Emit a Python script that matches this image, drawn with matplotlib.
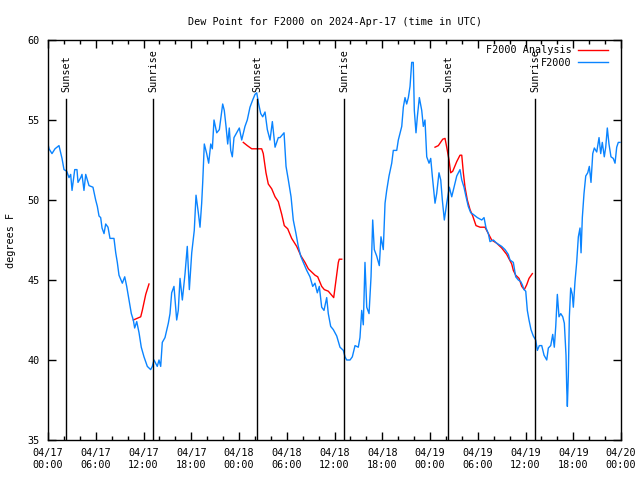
from datetime import datetime, timedelta
import matplotlib
matplotlib.use("Agg")
import matplotlib.pyplot as plt
import matplotlib.dates as mdates
import matplotlib.transforms as mtransforms

START = datetime(2024, 4, 17)

# observed dew point (hours after 04/17 00:00 UTC, degrees F)
obs_hours = [
    0.0, 0.13, 0.5, 0.88, 1.38, 1.76, 2.01, 2.35, 2.64, 2.85, 3.02, 3.36, 3.64, 3.77,
    4.11, 4.27, 4.52, 4.74, 5.15, 5.65, 5.99, 6.2, 6.41, 6.62, 6.79, 7.04, 7.25, 7.54,
    7.79, 8.29, 8.51, 8.71, 8.92, 9.34, 9.64, 9.89, 10.18, 10.47, 10.72, 10.89, 11.15,
    11.44, 11.72, 12.06, 12.48, 12.9, 13.11, 13.32, 13.73, 13.95, 14.16, 14.36, 14.7,
    15.12, 15.33, 15.54, 15.83, 16.17, 16.37, 16.59, 16.88, 17.22, 17.5, 17.76, 18.06,
    18.38, 18.6, 18.89, 19.1, 19.31, 19.44, 19.64, 19.94, 20.19, 20.45, 20.65, 20.86,
    21.2, 21.53, 21.74, 21.95, 22.15, 22.37, 22.58, 22.78, 22.96, 23.16, 23.37, 23.71,
    24.04, 24.34, 24.75, 25.04, 25.38, 25.72, 26.01, 26.23, 26.43, 26.73, 26.98, 27.27,
    27.56, 27.9, 28.19, 28.53, 28.94, 29.15, 29.66, 29.91, 30.2, 30.54, 30.82, 31.16,
    31.45, 31.75, 32.08, 32.51, 32.92, 33.26, 33.55, 33.84, 34.09, 34.39, 34.68, 35.02,
    35.22, 35.52, 35.85, 36.28, 36.69, 37.11, 37.32, 37.53, 37.95, 38.24, 38.58, 38.99,
    39.2, 39.42, 39.62, 39.83, 40.05, 40.34, 40.59, 40.8, 41.0, 41.3, 41.63, 41.84,
    42.13, 42.35, 42.56, 42.85, 43.19, 43.39, 43.82, 44.02, 44.45, 44.65, 44.86, 45.07,
    45.28, 45.49, 45.7, 45.9, 46.03, 46.24, 46.41, 46.66, 46.96, 47.16, 47.37, 47.59,
    47.88, 48.09, 48.29, 48.63, 48.84, 49.13, 49.35, 49.55, 49.8, 50.1, 50.43, 50.73,
    51.02, 51.36, 51.77, 51.99, 52.27, 52.53, 52.81, 53.12, 53.44, 53.95, 54.5, 54.79,
    55.04, 55.33, 55.54, 55.96, 56.38, 57.01, 57.43, 57.84, 58.05, 58.47, 58.77, 59.1,
    59.4, 59.6, 59.81, 60.03, 60.23, 60.44, 60.69, 60.98, 61.28, 61.49, 61.74, 62.04,
    62.33, 62.67, 62.87, 63.17, 63.42, 63.62, 63.8, 64.0, 64.21, 64.43, 64.68, 64.88,
    65.09, 65.18, 65.26, 65.38, 65.51, 65.68, 65.88, 66.01, 66.22, 66.43, 66.64, 66.85,
    66.98, 67.14, 67.35, 67.57, 67.82, 68.02, 68.23, 68.45, 68.65, 68.95, 69.24, 69.45,
    69.65, 69.9, 70.08, 70.28, 70.49, 70.74, 71.03, 71.25, 71.46, 71.66, 71.87,
]
obs_dewpt = [
    53.5, 53.2, 52.9, 53.2, 53.4, 52.6, 51.9, 51.8, 51.4, 51.6, 50.6, 51.9, 51.9, 51.1,
    51.4, 51.6, 50.6, 51.6, 50.9, 50.8, 50.0, 49.6, 49.0, 48.9, 48.25, 47.9, 48.5, 48.3,
    47.6, 47.6, 46.7, 46.1, 45.3, 44.8, 45.2, 44.6, 43.75, 42.9, 42.5, 42.0, 42.4,
    41.7, 40.8, 40.2, 39.6, 39.4, 39.6, 40.0, 39.6, 40.0, 39.6, 41.1, 41.4,
    42.3, 42.9, 44.2, 44.6, 42.5, 43.1, 45.1, 43.75, 45.4, 47.1, 44.4, 46.7,
    48.1, 50.3, 49.2, 48.3, 49.8, 51.1, 53.5, 52.9, 52.3, 53.5, 53.2, 55.0,
    54.2, 54.4, 55.2, 56.0, 55.6, 54.6, 53.5, 54.5, 53.1, 52.7, 53.9, 54.2,
    54.5, 53.75, 54.6, 55.0, 55.8, 56.25, 56.6, 56.7, 56.1, 55.4, 55.2, 55.5,
    54.4, 53.75, 54.9, 53.3, 53.9, 53.9, 54.2, 52.1, 51.25, 50.2, 48.75, 47.9,
    47.1, 46.5, 46.1, 45.6, 45.2, 44.6, 44.8, 44.2, 44.6, 43.3, 43.1, 43.9,
    42.9, 42.1, 41.9, 41.5, 40.8, 40.6, 40.2, 40.0, 40.0, 40.2, 40.9, 40.8,
    41.4, 43.1, 42.2, 46.1, 43.3, 42.9, 45.2, 48.75, 46.9, 46.5, 45.9, 47.7,
    46.9, 49.8, 50.6, 51.5, 52.3, 53.1, 53.1, 53.75, 54.6, 55.8, 56.4, 56.0,
    56.4, 57.1, 58.6, 58.6, 55.6, 54.2, 55.2, 56.4, 55.6, 54.6, 55.0, 52.7,
    52.3, 52.6, 51.5, 49.8, 50.4, 51.7, 51.25, 50.0, 48.75, 49.8, 50.8, 50.2,
    50.8, 51.5, 51.9, 51.25, 50.8, 50.2, 49.6, 49.2, 49.1, 48.9, 48.75, 48.9,
    48.25, 47.9, 47.4, 47.5, 47.3, 47.1, 46.9, 46.6, 46.25, 46.1, 45.2, 45.0,
    44.9, 44.7, 44.4, 44.3, 43.1, 42.5, 41.9, 41.5, 41.25, 40.6, 40.9, 40.9,
    40.3, 40.0, 40.75, 40.9, 41.6, 40.8, 42.1, 44.1, 42.7, 42.9, 42.7, 42.3,
    40.3, 38.25, 37.1, 39.0, 42.7, 44.5, 44.1, 43.3, 44.9, 46.1, 47.7, 48.25,
    46.7, 48.9, 50.4, 51.5, 51.7, 52.1, 51.1, 52.9, 53.25, 53.0, 53.9, 52.9,
    53.6, 52.7, 53.3, 54.5, 53.5, 52.7, 52.6, 52.3, 53.3, 53.6, 53.6,
]

# analysis segments
ana1_hours = [10.72, 11.65, 11.85, 12.28, 12.69]
ana1_dewpt = [42.5, 42.7, 43.1, 44.1, 44.75]
ana2_hours = [24.54, 25.04, 25.6, 26.85, 27.05, 27.39, 27.68, 28.11, 28.53, 28.94,
              29.37, 29.69, 30.12, 30.62, 31.25, 31.79, 32.29, 32.71, 33.55, 33.89,
              34.39, 34.72, 35.22, 35.73, 35.9, 36.19, 36.48, 36.6, 36.91]
ana2_dewpt = [53.6, 53.4, 53.2, 53.2, 52.9, 51.7, 51.0, 50.7, 50.2, 49.9,
              49.1, 48.4, 48.2, 47.6, 47.1, 46.5, 46.1, 45.7, 45.3, 45.2,
              44.6, 44.4, 44.3, 44.0, 43.9, 45.0, 46.1, 46.3, 46.3]
ana3_hours = [48.63, 49.05, 49.6, 49.89, 50.1, 50.39, 50.6, 50.86, 51.36, 51.77,
              51.99, 52.19, 52.4, 52.69, 53.03, 53.37, 53.78, 54.29, 54.91, 55.33,
              55.75, 56.38, 57.01, 57.64, 58.27, 58.47, 58.77, 59.19, 59.53, 59.85,
              60.15, 60.44, 60.86]
ana3_dewpt = [53.3, 53.4, 53.8, 53.85, 53.3, 52.5, 51.7, 51.8, 52.4, 52.8,
              52.8, 51.7, 50.8, 50.0, 49.4, 49.0, 48.4, 48.3, 48.3, 47.9,
              47.5, 47.3, 47.0, 46.6, 46.0, 45.6, 45.3, 45.1, 44.6, 44.4,
              44.7, 45.1, 45.4]

sun_hours = [2.3, 13.2, 26.3, 37.2, 50.3, 61.2]
sun_labels = ["Sunset", "Sunrise", "Sunset", "Sunrise", "Sunset", "Sunrise"]


def to_times(hours):
    return [START + timedelta(hours=h) for h in hours]


plt.rcParams["font.family"] = "DejaVu Sans Mono"
plt.rcParams["font.size"] = 7.3

fig = plt.figure(figsize=(6.4, 4.8), dpi=100)
ax = fig.add_axes([48 / 640, 40 / 480, 573 / 640, 400 / 480])

ax.plot(to_times(ana1_hours), ana1_dewpt, color="#ff0000", lw=1.0, label="F2000 Analysis")
ax.plot(to_times(ana2_hours), ana2_dewpt, color="#ff0000", lw=1.0)
ax.plot(to_times(ana3_hours), ana3_dewpt, color="#ff0000", lw=1.0)
ax.plot(to_times(obs_hours), obs_dewpt, color="#0a84ff", lw=1.0, label="F2000")

trans = mtransforms.blended_transform_factory(ax.transData, ax.transAxes)
for h, lab in zip(sun_hours, sun_labels):
    t = mdates.date2num(START + timedelta(hours=h))
    ax.axvline(t, ymin=0, ymax=0.853, color="black", lw=1.0)
    ax.text(t, 0.87, lab, rotation=90, ha="center", va="bottom", transform=trans)

ax.set_xlim(START, START + timedelta(hours=72))
ax.set_ylim(35, 60)
ax.xaxis.set_major_locator(mdates.HourLocator(byhour=[0, 6, 12, 18]))
ax.xaxis.set_minor_locator(mdates.HourLocator(byhour=range(0, 24, 2)))
ax.xaxis.set_major_formatter(mdates.DateFormatter("%m/%d\n%H:%M"))
ax.set_yticks([35, 40, 45, 50, 55, 60])
ax.tick_params(which="both", direction="in", top=True, right=True, width=1.0)
ax.tick_params(which="major", length=6, pad=6)
ax.tick_params(which="minor", length=3)
for s in ax.spines.values():
    s.set_linewidth(1.0)

ax.set_title("Dew Point for F2000 on 2024-Apr-17 (time in UTC)", fontsize=7.3, pad=11)
ax.set_ylabel("degrees F", labelpad=8)
ax.legend(loc="upper right", bbox_to_anchor=(1 - 8 / 573, 1.0), frameon=False,
          markerfirst=False, handlelength=3.0, handletextpad=0.6, labelspacing=0.25,
          borderaxespad=0.2, borderpad=0.3)

fig.savefig("out.png", dpi=100)
